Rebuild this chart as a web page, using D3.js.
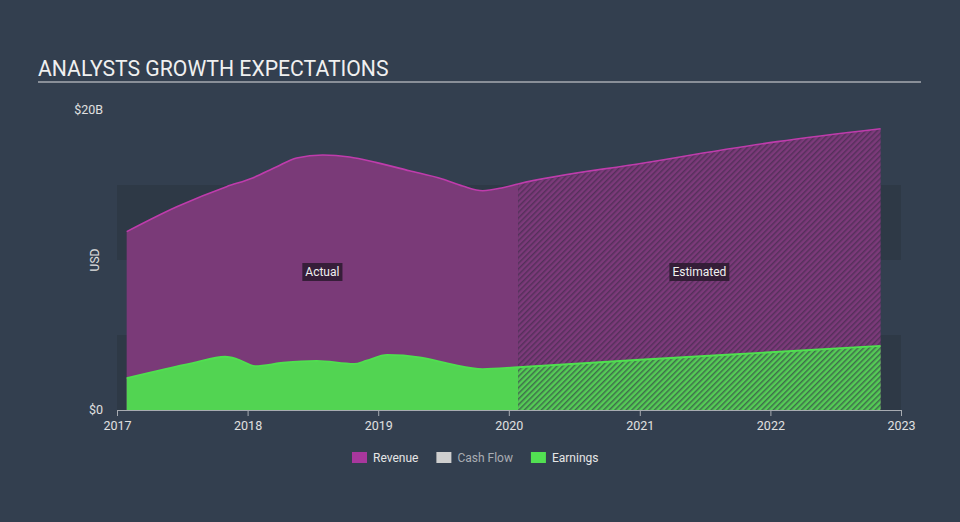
<!DOCTYPE html>
<html><head><meta charset="utf-8">
<script src="https://cdn.jsdelivr.net/npm/d3@7/dist/d3.min.js"></script>
<style>
html,body{margin:0;padding:0;background:#333f4f;}
svg{display:block;font-family:Roboto,"Open Sans",sans-serif;}
</style></head>
<body>
<svg id="c" width="960" height="522"></svg>
<script>
const revenueActual = [
  ["2017-01-28",11.89],["2017-06-17",13.55],["2017-11-03",14.89],["2018-01-15",15.47],
  ["2018-03-22",16.2],["2018-05-18",16.8],["2018-07-30",17.0],["2018-10-13",16.87],
  ["2018-12-28",16.49],["2019-03-29",15.95],["2019-06-29",15.4],["2019-08-25",14.93],
  ["2019-10-20",14.62],["2019-12-15",14.82],["2020-01-27",15.07]
];
const revenueEstimated = [
  ["2020-01-27",15.07],["2021-01-12",16.47],["2022-01-20",17.89],["2022-11-05",18.75]
];
const earningsActual = [
  ["2017-01-28",2.13],["2017-07-31",3.13],["2017-10-30",3.55],["2017-12-02",3.4],
  ["2018-01-22",2.93],["2018-04-10",3.15],["2018-07-13",3.27],["2018-10-26",3.07],
  ["2018-11-29",3.29],["2019-01-26",3.67],["2019-04-27",3.51],["2019-07-20",3.07],
  ["2019-10-20",2.73],["2020-01-27",2.85]
];
const earningsEstimated = [
  ["2020-01-27",2.85],["2021-01-01",3.35],["2022-01-01",3.85],["2022-11-05",4.27]
];
const xTickYears = [2017,2018,2019,2020,2021,2022,2023];
const yTickLabels = [{v:0,label:"$0"},{v:20,label:"$20B"}];
const bandRanges = [[0,5],[10,15]];
const legendItems = [
  {name:"Revenue", color:"#a8379d", text:"#e6e6e6"},
  {name:"Cash Flow", color:"#cfcfcf", text:"#a9adb3"},
  {name:"Earnings", color:"#52e052", text:"#e6e6e6"}
];

const parse = d3.timeParse("%Y-%m-%d");
const toPts = a => a.map(([d,v]) => ({date: parse(d), value: v}));

const svg = d3.select("#c");
const x = d3.scaleTime().domain([new Date(2017,0,1), new Date(2023,0,1)]).range([117, 901]);
const y = d3.scaleLinear().domain([0,20]).range([410,110]);

const defs = svg.append("defs");
function hatch(id, bg, line){
  const p = defs.append("pattern").attr("id", id).attr("patternUnits","userSpaceOnUse")
    .attr("width",4).attr("height",4).attr("patternTransform","rotate(45)");
  p.append("rect").attr("width",4).attr("height",4).attr("fill",bg);
  p.append("rect").attr("x",0).attr("y",0).attr("width",1.5).attr("height",4).attr("fill",line);
}
hatch("hRev", "#7c3a7a", "#55305b");
hatch("hEarn", "#55cc55", "#3f6e4c");

// title
svg.append("text").attr("x",38).attr("y",76).attr("fill","#f0f0f0")
  .attr("font-size",21.2).text("ANALYSTS GROWTH EXPECTATIONS");
svg.append("line").attr("x1",38).attr("x2",921).attr("y1",82).attr("y2",82)
  .attr("stroke","#a7abb1").attr("stroke-width",1.5);

// bands
svg.selectAll("rect.band").data(bandRanges).enter().append("rect")
  .attr("x", x.range()[0]).attr("width", x.range()[1]-x.range()[0])
  .attr("y", d => y(d[1])).attr("height", d => y(d[0]) - y(d[1]))
  .attr("fill","#2e3946");

const area = d3.area().x(d => x(d.date)).y0(y(0)).y1(d => y(d.value)).curve(d3.curveMonotoneX);
const line = d3.line().x(d => x(d.date)).y(d => y(d.value)).curve(d3.curveMonotoneX);

const rA = toPts(revenueActual), rE = toPts(revenueEstimated);
const eA = toPts(earningsActual), eE = toPts(earningsEstimated);

svg.append("path").attr("d", area(rA)).attr("fill","#7a3a78");
svg.append("path").attr("d", area(rE)).attr("fill","url(#hRev)");
svg.append("path").attr("d", line(rA.concat(rE.slice(1)))).attr("fill","none")
  .attr("stroke","#bf3cac").attr("stroke-width",1.6);

svg.append("path").attr("d", area(eA)).attr("fill","#52d452");
svg.append("path").attr("d", area(eE)).attr("fill","url(#hEarn)");
svg.append("path").attr("d", line(eA.concat(eE.slice(1)))).attr("fill","none")
  .attr("stroke","#4fe04f").attr("stroke-width",1.8);

// x axis
const xAxis = svg.append("g").attr("transform",`translate(0,${y(0)})`)
  .call(d3.axisBottom(x).tickValues(xTickYears.map(yr => new Date(yr,0,1)))
    .tickFormat(d3.timeFormat("%Y")).tickSizeOuter(0).tickSize(6));
xAxis.select(".domain").attr("stroke","#a7abb1");
xAxis.selectAll(".tick line").attr("stroke","#a7abb1");
xAxis.selectAll(".tick text").attr("fill","#e0e0e0").attr("font-size",12.5)
  .attr("font-family","Roboto,sans-serif").attr("dy","0.85em");

// y labels
svg.selectAll("text.yl").data(yTickLabels).enter().append("text")
  .attr("x", 103).attr("y", d => y(d.v)+4)
  .attr("text-anchor","end").attr("fill","#e0e0e0").attr("font-size",12.5).text(d => d.label);
svg.append("text").attr("transform","translate(99,260) rotate(-90)")
  .attr("text-anchor","middle").attr("fill","#e0e0e0").attr("font-size",12).text("USD");

// Actual / Estimated labels
function tag(xc, txt){
  const g = svg.append("g");
  const t = g.append("text").attr("x",xc).attr("y",276).attr("text-anchor","middle")
    .attr("fill","#f0f0f0").attr("font-size",12).text(txt);
  const b = t.node().getBBox();
  g.insert("rect","text").attr("x",b.x-3).attr("y",263).attr("width",b.width+6).attr("height",18)
    .attr("fill","#2a1a2e").attr("opacity",0.85);
}
tag((x(rA[0].date)+x(rA[rA.length-1].date))/2, "Actual");
tag((x(rE[0].date)+x(rE[rE.length-1].date))/2, "Estimated");

// legend
const lg = svg.append("g");
let lx = 352;
legendItems.forEach(it => {
  lg.append("rect").attr("x",lx).attr("y",452).attr("width",15).attr("height",11).attr("fill",it.color);
  const t = lg.append("text").attr("x",lx+21).attr("y",462).attr("fill",it.text)
    .attr("font-size",12).text(it.name);
  lx += 21 + t.node().getComputedTextLength() + 18;
});
</script>
</body></html>
